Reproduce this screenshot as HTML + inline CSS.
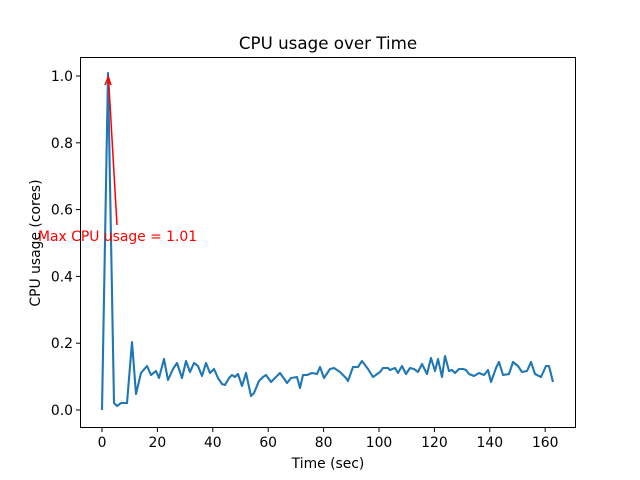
<!DOCTYPE html>
<html><head><style>body{margin:0;background:#fff}svg{display:block}</style></head><body>
<svg width="640" height="480" xmlns="http://www.w3.org/2000/svg" font-family="DejaVu Sans, Liberation Sans, sans-serif">
<rect width="640" height="480" fill="#fff"/>
<text x="328" y="49" font-size="16.7" text-anchor="middle">CPU usage over Time</text>
<polyline fill="none" stroke="#1f77b4" stroke-width="2.1" stroke-linejoin="round" points="102,410 108,73 114,403 117,406 121,403 127,403 132,342 136,394 141,373 147,366 151,375 156,371 159,378 164,359 168,380 173,369 177,363 182,378 186,361 190,372 194,363 198,366 202,376 206,363 210,373 214,369 218,378 222,384 225,385 229,378 232,375 235,377 238,374 242,386 246,373 251,396 254,393 259,381 263,377 266,375 271,382 275,378 280,373 285,380 287,383 291,378 297,377 300,388 303,375 307,375 312,373 317,374 320,367 324,378 330,369 334,368 340,372 346,378 348,381 353,367 358,367 362,361 368,369 373,377 380,372 383,368 388,368 390,370 395,368 398,373 402,366 406,374 410,368 414,369 418,372 422,364 427,374 431,358 435,371 438,359 442,377 445,356 449,371 452,370 455,373 459,369 463,369 466,370 469,374 474,376 479,373 484,375 488,370 491,382 496,368 499,362 503,375 509,374 513,362 518,366 522,372 527,371 531,362 535,374 541,377 546,366 549,366 553,382"/>
<line x1="117" y1="225" x2="108.5" y2="78" stroke="red" stroke-width="1.5"/>
<polyline points="105,85 108.3,77 111,85" fill="none" stroke="red" stroke-width="1.5"/>
<text x="38" y="241" font-size="13.9" fill="red">Max CPU usage = 1.01</text>
<rect x="80.5" y="57.5" width="495" height="370" fill="none" stroke="#000" stroke-width="1"/>
<g stroke="#000" stroke-width="1">
<line x1="102" y1="428" x2="102" y2="432"/><line x1="157.4" y1="428" x2="157.4" y2="432"/><line x1="212.8" y1="428" x2="212.8" y2="432"/><line x1="268.2" y1="428" x2="268.2" y2="432"/><line x1="323.6" y1="428" x2="323.6" y2="432"/><line x1="379" y1="428" x2="379" y2="432"/><line x1="434.4" y1="428" x2="434.4" y2="432"/><line x1="489.8" y1="428" x2="489.8" y2="432"/><line x1="545.2" y1="428" x2="545.2" y2="432"/>
<line x1="76" y1="410" x2="80" y2="410"/><line x1="76" y1="343.2" x2="80" y2="343.2"/><line x1="76" y1="276.4" x2="80" y2="276.4"/><line x1="76" y1="209.6" x2="80" y2="209.6"/><line x1="76" y1="142.8" x2="80" y2="142.8"/><line x1="76" y1="76" x2="80" y2="76"/>
</g>
<g font-size="13.9" text-anchor="middle">
<text x="102" y="447">0</text><text x="157.4" y="447">20</text><text x="212.8" y="447">40</text><text x="268.2" y="447">60</text><text x="323.6" y="447">80</text><text x="379" y="447">100</text><text x="434.4" y="447">120</text><text x="489.8" y="447">140</text><text x="545.2" y="447">160</text>
</g>
<g font-size="13.9" text-anchor="end">
<text x="73" y="415">0.0</text><text x="73" y="348.2">0.2</text><text x="73" y="281.4">0.4</text><text x="73" y="214.6">0.6</text><text x="73" y="147.8">0.8</text><text x="73" y="81">1.0</text>
</g>
<text x="328" y="468" font-size="13.9" text-anchor="middle">Time (sec)</text>
<text x="0" y="0" font-size="13.9" text-anchor="middle" transform="translate(40,243) rotate(-90)">CPU usage (cores)</text>
</svg>
</body></html>
